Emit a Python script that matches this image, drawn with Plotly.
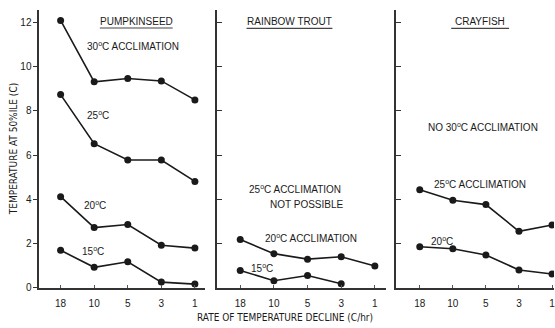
import plotly.graph_objects as go

# Rate of temperature decline (C/hr) categories, shared by all panels
rates = ["18", "10", "5", "3", "1"]
y_ticks = [0, 2, 4, 6, 8, 10, 12]

# Pumpkinseed: temperature at 50%ile loss of equilibrium (C)
pumpkinseed_30 = [12.1, 9.32, 9.47, 9.36, 8.5]
pumpkinseed_25 = [8.74, 6.52, 5.78, 5.78, 4.81]
pumpkinseed_20 = [4.12, 2.72, 2.86, 1.92, 1.79]
pumpkinseed_15 = [1.69, 0.92, 1.17, 0.25, 0.16]

# Rainbow trout (no 25C acclimation; 15C fish have no value at 1 C/hr)
trout_20 = [2.18, 1.54, 1.29, 1.40, 0.98]
trout_15 = [0.78, 0.31, 0.55, 0.18]

# Crayfish (no 30C acclimation)
crayfish_25 = [4.43, 3.96, 3.76, 2.55, 2.84]
crayfish_20 = [1.85, 1.76, 1.48, 0.80, 0.62]

W, H = 555, 328
INK = "#1a1a1a"
FONT = "Liberation Sans, Arial, sans-serif"
NARROW = "Liberation Sans Narrow, DejaVu Sans Condensed, Arial Narrow, sans-serif"


def px(x, y):
    """Convert pixel position to paper coordinates."""
    return x / W, 1 - y / H


fig = go.Figure()

panels = [
    ("x", "y", [pumpkinseed_30, pumpkinseed_25, pumpkinseed_20, pumpkinseed_15]),
    ("x2", "y2", [trout_20, trout_15]),
    ("x3", "y3", [crayfish_25, crayfish_20]),
]
for xa, ya, series in panels:
    for vals in series:
        fig.add_trace(go.Scatter(
            x=list(range(len(vals))), y=vals, xaxis=xa, yaxis=ya,
            mode="lines+markers",
            line=dict(color=INK, width=1.6),
            marker=dict(color=INK, size=7),
            showlegend=False, hoverinfo="skip",
        ))

y_dom = [1 - 293 / H, 1 - 10 / H]
y_rng = [0, 12.58]
axis_common = dict(showgrid=False, zeroline=False, showline=True,
                   linecolor="#333", linewidth=1.5)
x_common = dict(tickvals=list(range(5)), ticktext=rates, ticks="inside",
                ticklen=3, tickcolor="#555", tickfont=dict(size=10),
                ticklabelstandoff=6, ticklabeloverflow="allow")

fig.update_layout(
    width=W, height=H, margin=dict(l=0, r=0, t=0, b=0),
    paper_bgcolor="white", plot_bgcolor="white",
    font=dict(family=FONT, size=10, color=INK),
    xaxis=dict(domain=[39.3 / W, 205 / W], range=[-0.637, 4.29],
               anchor="y", **x_common, **axis_common),
    xaxis2=dict(domain=[217.5 / W, 387 / W], range=[-0.687, 4.34],
                anchor="y2", **x_common, **axis_common),
    xaxis3=dict(domain=[396.5 / W, 1.0], range=[-0.725, 4.06],
                anchor="y3", **x_common, **axis_common),
    yaxis=dict(domain=y_dom, range=y_rng, tickvals=y_ticks,
               ticks="outside", ticklen=4, tickcolor="#333",
               tickfont=dict(size=10), anchor="x", **axis_common),
    yaxis2=dict(domain=y_dom, range=y_rng, tickvals=y_ticks,
                showticklabels=False, ticks="inside", ticklen=5,
                tickcolor="#333", anchor="x2", **axis_common),
    yaxis3=dict(domain=y_dom, range=y_rng, tickvals=y_ticks,
                showticklabels=False, ticks="inside", ticklen=5,
                tickcolor="#333", anchor="x3", **axis_common),
)

labels = [
    # text, x, y, xanchor
    ("PUMPKINSEED", 136.5, 21.5, "center"),
    ("RAINBOW TROUT", 290, 21.5, "center"),
    ("CRAYFISH", 481, 21.5, "center"),
    ("30<sup>o</sup>C ACCLIMATION", 85, 47, "left"),
    ("25<sup>o</sup>C", 85, 117, "left"),
    ("20<sup>o</sup>C", 82, 209, "left"),
    ("15<sup>o</sup>C", 80, 256, "left"),
    ("25<sup>o</sup>C ACCLIMATION", 247, 193, "left"),
    ("NOT POSSIBLE", 347, 208, "right"),
    ("20<sup>o</sup>C ACCLIMATION", 263, 242, "left"),
    ("15<sup>o</sup>C", 249, 273, "left"),
    ("NO 30<sup>o</sup>C ACCLIMATION", 427, 129, "left"),
    ("25<sup>o</sup>C ACCLIMATION", 433, 187, "left"),
    ("20<sup>o</sup>C", 430, 245, "left"),
]
for text, x, y, xa in labels:
    xp, yp = px(x, y)
    fig.add_annotation(text=text, x=xp, y=yp, xref="paper", yref="paper",
                       xanchor=xa, yanchor="middle", showarrow=False,
                       font=dict(size=10, family=FONT, color=INK))

# Underlines beneath the panel titles
for x0, x1, y in [(100, 173, 28.5), (247, 333, 29), (452, 510, 29)]:
    a = px(x0, y)
    b = px(x1, y)
    fig.add_shape(type="line", xref="paper", yref="paper",
                  x0=a[0], y0=a[1], x1=b[0], y1=b[1],
                  line=dict(color="#444", width=1.2))

# Axis titles
xp, yp = px(286, 323)
fig.add_annotation(text="RATE OF TEMPERATURE DECLINE (C/hr)", x=xp, y=yp,
                   xref="paper", yref="paper", showarrow=False,
                   xanchor="center", yanchor="middle",
                   font=dict(size=10, family=NARROW, color=INK))
xp, yp = px(13, 152)
fig.add_annotation(text="TEMPERATURE AT 50%ILE (C)", x=xp, y=yp,
                   xref="paper", yref="paper", showarrow=False, textangle=-90,
                   xanchor="center", yanchor="middle",
                   font=dict(size=10, family=NARROW, color=INK))

fig.write_html("out.html")
